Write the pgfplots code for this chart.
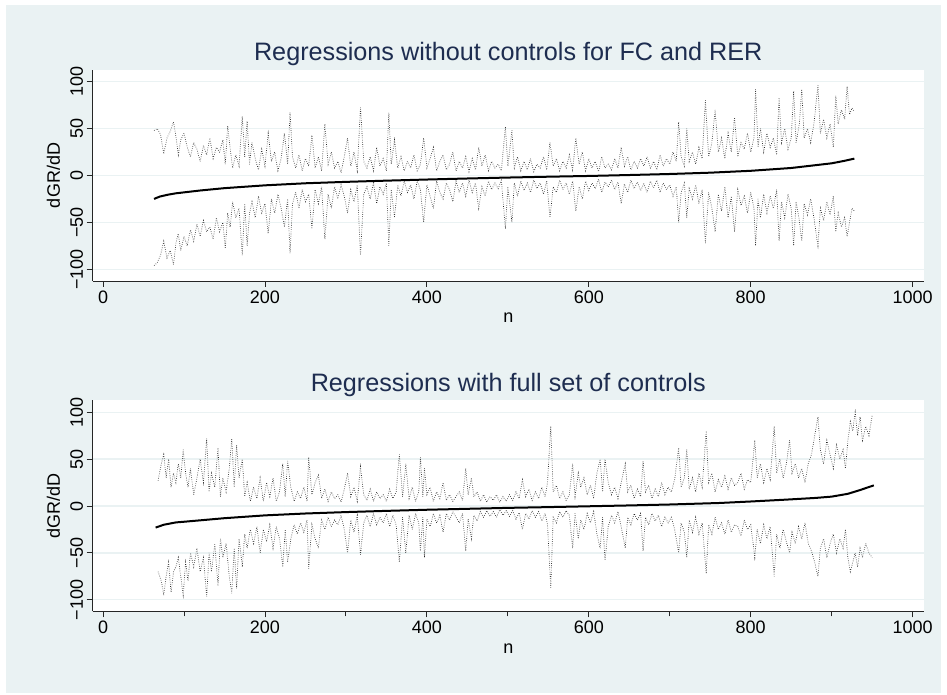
\documentclass[border=0pt]{standalone}
\usepackage{pgfplots}
\pgfplotsset{compat=1.18}
\usepackage{fontspec}
\setmainfont{Liberation Sans}
\definecolor{bg}{RGB}{234,242,243}
\definecolor{ttl}{RGB}{30,45,80}
\begin{document}
\begin{tikzpicture}
\fill[white] (0pt,0pt) rectangle (947pt,695pt);
\fill[bg] (6pt,2pt) rectangle (941pt,690pt);
\pgfplotsset{
 stata/.style={
  scale only axis, width=831.5pt, height=211pt,
  xmin=-13, xmax=1014, ymin=-112.5, ymax=112.5,
  axis background/.style={fill=white},
  axis lines*=left, axis line style={-, line width=0.9pt, black!85},
  tick align=outside, major tick length=6pt, minor tick length=5pt,
  every tick/.style={black!85, line width=0.9pt},
  xtick={0,200,400,600,800,1000}, xticklabels={0,200,400,600,800,1000},
  ytick={-100,-50,0,50,100}, yticklabels={−100,−50,0,50,100},
  ymajorgrids, major grid style={bg, line width=1.4pt},
  tick label style={font=\fontsize{18}{20}\selectfont},
  yticklabel style={rotate=90, anchor=south},
  xlabel={n}, ylabel={dGR/dD},
  every axis y label/.style={at={(axis description cs:-0.047,0.5)}, rotate=90, anchor=center, font=\fontsize{18}{20}\selectfont},
  every axis x label/.style={at={(axis description cs:0.5,0)}, anchor=base, yshift=-42pt, font=\fontsize{18}{20}\selectfont},
  every axis title/.style={at={(axis description cs:0.5,1)}, anchor=base, yshift=9pt, font=\fontsize{25.2}{28}\selectfont, text=ttl},
  bnd/.style={black!85, line width=0.7pt, dash pattern=on 0.6pt off 1.6pt, mark=none},
  est/.style={black, line width=2pt, mark=none},
 }
}
\begin{axis}[stata, at={(92.5pt,414pt)}, anchor=south west, title={Regressions without controls for FC and RER}]
\addplot[bnd] coordinates {
(63,48)(67,50)(71,44)(75,23)(79,40)(83,47)(87,57)(90,42)(93,22)(96,38)(100,45)(104,30)(108,20)(112,35)(116,28)(120,15)(124,32)(128,22)(132,40)(136,18)(140,30)(144,25)(148,38)(151,12)(154,53)(157,30)(160,8)(164,22)(168,10)(172,63)(175,20)(178,58)(181,12)(184,35)(188,18)(192,6)(196,28)(200,10)(204,45)(208,15)(212,25)(216,5)(220,18)(224,45)(228,12)(231,67)(234,20)(238,8)(242,22)(246,5)(250,18)(254,10)(258,43)(262,8)(266,20)(270,5)(274,55)(278,12)(282,25)(286,8)(290,15)(294,3)(298,20)(302,40)(306,10)(310,25)(314,5)(318,73)(322,15)(326,8)(330,20)(334,5)(338,30)(342,10)(346,18)(350,5)(353,67)(356,12)(360,38)(364,8)(368,20)(372,5)(376,15)(380,8)(384,22)(388,5)(392,12)(396,40)(400,8)(404,18)(408,30)(412,5)(416,15)(420,22)(424,6)(428,12)(432,25)(436,5)(440,15)(444,8)(448,20)(452,4)(456,18)(460,6)(464,30)(468,10)(472,22)(476,5)(480,15)(484,8)(488,12)(492,5)(497,52)(500,10)(505,48)(508,8)(512,20)(516,5)(520,15)(524,6)(528,18)(532,4)(536,12)(540,8)(544,20)(548,6)(552,35)(556,10)(560,18)(564,5)(568,15)(572,8)(576,22)(580,6)(584,40)(588,12)(592,25)(596,5)(600,18)(604,8)(608,15)(612,4)(616,20)(620,8)(624,12)(628,6)(632,18)(636,8)(640,30)(644,10)(648,20)(652,6)(656,15)(660,8)(664,18)(668,10)(672,20)(676,8)(680,15)(684,6)(688,22)(692,10)(696,18)(700,12)(704,25)(708,15)(711,57)(714,20)(718,10)(721,50)(724,15)(728,25)(732,12)(736,30)(740,18)(744,80)(748,20)(752,35)(756,70)(760,25)(764,40)(768,18)(772,45)(776,25)(780,62)(784,20)(788,35)(792,28)(796,45)(800,25)(804,40)(806,92)(809,30)(812,50)(816,25)(820,45)(824,30)(828,40)(832,22)(835,83)(838,35)(842,50)(846,28)(850,40)(853,90)(856,35)(860,55)(863,92)(866,40)(870,50)(874,35)(878,55)(883,96)(886,45)(890,60)(894,40)(898,55)(902,30)(905,85)(908,55)(912,70)(916,60)(919,95)(922,65)(925,72)(928,68)
};
\addplot[bnd] coordinates {
(63,-96)(67,-93)(71,-85)(75,-70)(79,-88)(83,-80)(87,-95)(90,-72)(93,-62)(96,-80)(100,-65)(104,-75)(108,-58)(112,-70)(116,-52)(120,-65)(124,-48)(128,-60)(132,-55)(136,-68)(140,-45)(144,-60)(148,-50)(151,-78)(154,-40)(157,-55)(160,-28)(164,-45)(168,-35)(172,-85)(175,-30)(178,-75)(181,-40)(184,-28)(188,-45)(192,-22)(196,-40)(200,-30)(204,-62)(208,-25)(212,-40)(216,-20)(220,-35)(224,-55)(228,-25)(231,-83)(234,-30)(238,-18)(242,-35)(246,-15)(250,-28)(254,-20)(258,-57)(262,-15)(266,-30)(270,-12)(274,-68)(278,-20)(282,-35)(286,-12)(290,-25)(294,-10)(298,-22)(302,-40)(306,-15)(310,-28)(314,-10)(318,-85)(322,-20)(326,-12)(330,-25)(334,-8)(338,-30)(342,-12)(346,-20)(350,-8)(353,-75)(356,-15)(360,-45)(364,-10)(368,-22)(372,-6)(376,-18)(380,-10)(384,-25)(388,-6)(392,-15)(396,-50)(400,-10)(404,-22)(408,-35)(412,-6)(416,-18)(420,-25)(424,-8)(428,-15)(432,-28)(436,-6)(440,-18)(444,-8)(448,-22)(452,-5)(456,-18)(460,-8)(464,-35)(468,-12)(472,-22)(476,-6)(480,-15)(484,-8)(488,-14)(492,-5)(497,-57)(500,-12)(505,-50)(508,-8)(512,-22)(516,-6)(520,-16)(524,-8)(528,-18)(532,-5)(536,-14)(540,-8)(544,-20)(548,-6)(552,-45)(556,-12)(560,-18)(564,-5)(568,-15)(572,-8)(576,-20)(580,-6)(584,-38)(588,-12)(592,-25)(596,-6)(600,-16)(604,-8)(608,-14)(612,-4)(616,-18)(620,-7)(624,-12)(628,-5)(632,-15)(636,-7)(640,-30)(644,-9)(648,-18)(652,-5)(656,-14)(660,-7)(664,-16)(668,-9)(672,-18)(676,-6)(680,-13)(684,-5)(688,-18)(692,-8)(696,-15)(700,-10)(704,-22)(708,-12)(711,-50)(714,-18)(718,-8)(721,-45)(724,-14)(728,-25)(732,-10)(736,-30)(740,-15)(744,-72)(748,-18)(752,-35)(756,-60)(760,-20)(764,-38)(768,-12)(772,-45)(776,-22)(780,-60)(784,-15)(788,-32)(792,-22)(796,-40)(800,-18)(804,-35)(806,-75)(809,-25)(812,-45)(816,-20)(820,-40)(824,-22)(828,-35)(832,-15)(835,-70)(838,-28)(842,-45)(846,-20)(850,-35)(853,-75)(856,-28)(860,-48)(863,-70)(866,-30)(870,-42)(874,-25)(878,-45)(883,-75)(886,-35)(890,-48)(894,-28)(898,-42)(902,-22)(905,-60)(908,-40)(912,-55)(916,-45)(919,-65)(922,-50)(925,-35)(928,-38)
};
\addplot[est] coordinates {
(63,-25)(70,-22.5)(80,-20.5)(90,-19)(100,-18)(120,-16)(150,-13.5)(200,-10.5)(250,-8.3)(300,-6.8)(350,-5.5)(400,-4.3)(450,-3.2)(500,-2.2)(550,-1.3)(600,-0.5)(650,0.5)(700,1.6)(750,3)(800,5)(850,8)(880,11)(900,13)(915,15.5)(928,18)
};
\end{axis}
\begin{axis}[stata, at={(92.5pt,83.5pt)}, anchor=south west, minor xtick={100,300,500,700,900}, title={Regressions with full set of controls}]
\addplot[bnd] coordinates {
(68,27)(72,45)(75,55)(78,30)(81,50)(84,20)(87,35)(90,25)(93,45)(96,30)(99,60)(102,35)(105,20)(108,40)(112,12)(116,30)(120,50)(124,25)(128,72)(131,15)(134,35)(138,20)(142,62)(145,10)(148,30)(152,15)(156,40)(159,72)(162,20)(165,65)(168,30)(172,50)(175,10)(178,25)(182,5)(186,20)(190,8)(194,30)(198,5)(202,25)(206,10)(210,30)(214,5)(218,15)(222,45)(225,10)(228,48)(232,20)(236,5)(240,15)(244,8)(248,20)(252,5)(254,52)(258,12)(262,25)(266,33)(270,8)(274,18)(278,5)(282,15)(286,8)(290,12)(294,4)(298,18)(302,35)(306,10)(310,20)(314,5)(318,42)(322,12)(326,6)(330,18)(334,5)(338,15)(342,8)(346,12)(350,5)(354,18)(358,8)(362,15)(366,55)(370,10)(374,45)(378,8)(382,20)(386,5)(390,15)(392,52)(395,10)(397,40)(400,12)(404,20)(408,5)(412,15)(416,8)(420,25)(424,6)(428,12)(432,5)(436,10)(440,15)(444,6)(448,40)(451,12)(455,30)(458,10)(462,15)(466,5)(470,12)(474,4)(478,10)(482,6)(486,12)(490,4)(494,10)(498,5)(502,12)(506,6)(510,15)(514,8)(518,28)(522,10)(526,18)(530,6)(534,15)(538,8)(542,20)(546,10)(549,25)(553,85)(556,15)(560,22)(564,8)(568,15)(572,6)(576,12)(580,45)(583,10)(587,35)(590,20)(594,30)(598,12)(602,22)(606,8)(610,35)(614,50)(617,15)(620,50)(624,25)(628,12)(632,20)(636,8)(640,25)(645,45)(648,15)(652,22)(656,8)(660,18)(664,10)(667,48)(670,15)(674,22)(678,8)(682,18)(686,10)(690,25)(694,12)(698,20)(702,15)(706,28)(711,62)(714,20)(718,30)(721,60)(724,18)(728,30)(732,15)(736,35)(740,20)(745,80)(748,25)(752,35)(756,15)(760,28)(764,20)(768,32)(772,18)(776,30)(780,22)(784,25)(788,35)(792,18)(796,28)(800,25)(805,70)(808,30)(812,45)(816,25)(820,40)(824,28)(829,85)(832,35)(836,50)(840,30)(844,45)(848,70)(851,35)(855,45)(859,30)(863,40)(867,25)(871,45)(875,55)(879,75)(883,95)(886,60)(890,45)(894,70)(898,55)(902,40)(906,65)(910,50)(914,60)(917,40)(920,70)(923,90)(926,80)(929,100)(932,75)(935,95)(938,70)(942,85)(946,75)(950,97)
};
\addplot[bnd] coordinates {
(68,-70)(72,-80)(75,-95)(78,-75)(81,-60)(84,-92)(87,-70)(90,-65)(93,-55)(96,-75)(99,-95)(102,-60)(105,-80)(108,-50)(112,-65)(116,-45)(120,-70)(124,-55)(128,-97)(131,-50)(134,-70)(138,-40)(142,-85)(145,-35)(148,-55)(152,-40)(156,-75)(159,-93)(162,-45)(165,-88)(168,-35)(172,-65)(175,-30)(178,-45)(182,-25)(186,-40)(190,-22)(194,-50)(198,-25)(202,-38)(206,-20)(210,-45)(214,-22)(218,-35)(222,-65)(225,-25)(228,-60)(232,-35)(236,-20)(240,-30)(244,-18)(248,-28)(252,-15)(254,-67)(258,-20)(262,-35)(266,-45)(270,-15)(274,-25)(278,-12)(282,-22)(286,-15)(290,-20)(294,-10)(298,-25)(302,-50)(306,-15)(310,-28)(314,-10)(318,-52)(322,-18)(326,-10)(330,-22)(334,-8)(338,-20)(342,-12)(346,-18)(350,-8)(354,-22)(358,-10)(362,-20)(366,-60)(370,-12)(374,-50)(378,-10)(382,-25)(386,-8)(390,-18)(392,-48)(395,-12)(397,-55)(400,-14)(404,-22)(408,-8)(412,-18)(416,-10)(420,-28)(424,-8)(428,-15)(432,-6)(436,-12)(440,-18)(444,-8)(448,-48)(451,-14)(455,-35)(458,-10)(462,-16)(466,-6)(470,-12)(474,-5)(478,-11)(482,-6)(486,-12)(490,-4)(494,-10)(498,-5)(502,-11)(506,-5)(510,-14)(514,-7)(518,-25)(522,-8)(526,-14)(530,-5)(534,-12)(538,-6)(542,-16)(546,-8)(549,-20)(553,-87)(556,-12)(560,-18)(564,-6)(568,-12)(572,-5)(576,-10)(580,-45)(583,-8)(587,-35)(590,-15)(594,-25)(598,-8)(602,-18)(606,-6)(610,-30)(614,-45)(617,-12)(620,-58)(624,-22)(628,-10)(632,-18)(636,-6)(640,-22)(645,-45)(648,-12)(652,-20)(656,-8)(660,-15)(664,-8)(667,-48)(670,-12)(674,-20)(678,-8)(682,-16)(686,-10)(690,-22)(694,-12)(698,-18)(702,-12)(706,-25)(711,-50)(714,-18)(718,-28)(721,-55)(724,-15)(728,-28)(732,-12)(736,-30)(740,-18)(745,-72)(748,-20)(752,-30)(756,-12)(760,-25)(764,-18)(768,-30)(772,-15)(776,-28)(780,-20)(784,-22)(788,-32)(792,-15)(796,-25)(800,-20)(805,-55)(808,-25)(812,-40)(816,-20)(820,-35)(824,-22)(829,-75)(832,-30)(836,-45)(840,-25)(844,-38)(848,-50)(851,-28)(855,-40)(859,-22)(863,-35)(867,-18)(871,-40)(875,-48)(879,-60)(883,-75)(886,-45)(890,-35)(894,-55)(898,-40)(902,-30)(906,-50)(910,-35)(914,-45)(917,-25)(920,-55)(923,-70)(926,-60)(929,-50)(932,-65)(935,-45)(938,-55)(942,-40)(946,-50)(950,-55)
};
\addplot[est] coordinates {
(65,-23)(75,-20)(90,-17.5)(100,-16.8)(150,-13)(200,-10)(250,-8)(300,-6.5)(350,-5.2)(400,-4)(450,-3)(500,-2)(550,-1.2)(600,-0.3)(650,0.6)(700,1.6)(761,3.2)(800,4.8)(844,6.8)(880,8.6)(900,10)(920,13)(935,17)(952,22)
};
\end{axis}
\end{tikzpicture}
\end{document}
